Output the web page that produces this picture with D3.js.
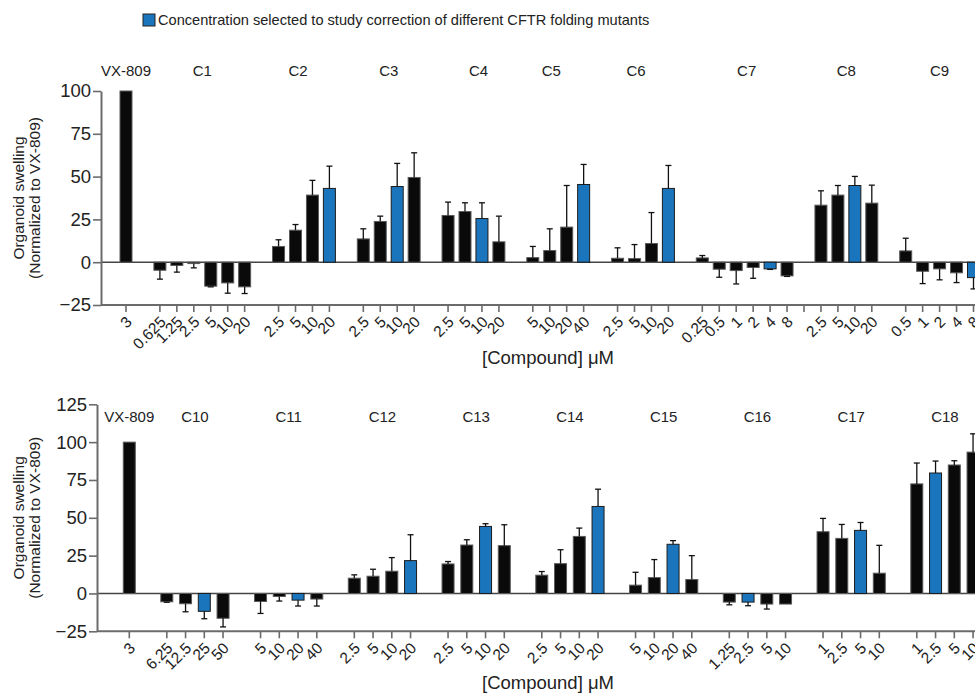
<!DOCTYPE html>
<html>
<head>
<meta charset="utf-8">
<script src="https://cdn.jsdelivr.net/npm/d3@7"></script>
<style>
  html, body { margin: 0; padding: 0; background: #fff; overflow: hidden; }
  svg { display: block; font-family: "Liberation Sans", Arial, sans-serif; }
</style>
</head>
<body>
<svg id="chart" width="975" height="694"></svg>
<script>
// ---- Panel 1: VX-809 reference and compounds C1–C9 ----
const topGroups = ["VX-809", "C1", "C2", "C3", "C4", "C5", "C6", "C7", "C8", "C9"];
const topDoses = [
  ["3"],
  ["0.625", "1.25", "2.5", "5", "10", "20"],
  ["2.5", "5", "10", "20"],
  ["2.5", "5", "10", "20"],
  ["2.5", "5", "10", "20"],
  ["5", "10", "20", "40"],
  ["2.5", "5", "10", "20"],
  ["0.25", "0.5", "1", "2", "4", "8"],
  ["2.5", "5", "10", "20"],
  ["0.5", "1", "2", "4", "8"]
];
const topMeans = [
  [100],
  [-4.7, -1.9, -0.8, -14.0, -12.1, -14.4],
  [9.2, 18.7, 39.2, 43.1],
  [13.6, 23.8, 44.2, 49.5],
  [27.3, 29.6, 25.5, 11.9],
  [2.7, 6.8, 20.5, 45.4],
  [2.3, 2.1, 10.9, 43.1],
  [2.5, -4.1, -4.9, -3.1, -3.9, -8.0],
  [33.3, 39.2, 44.8, 34.5],
  [6.6, -5.3, -3.9, -6.2, -9.0]
];
const topErrors = [
  [0],
  [5.2, 3.9, 2.5, 0.4, 6.0, 3.9],
  [3.9, 3.3, 8.6, 13.0],
  [5.9, 3.1, 13.5, 14.4],
  [7.8, 5.1, 9.2, 15.0],
  [6.5, 12.7, 24.3, 11.7],
  [6.1, 8.2, 18.1, 13.4],
  [1.4, 4.7, 7.8, 6.3, 0.3, 0.3],
  [8.4, 5.6, 5.3, 10.5],
  [7.4, 7.2, 6.4, 5.7, 6.6]
];
// dose chosen for the follow-up correction study (drawn in blue)
const topSelected = [null, null, "20", "10", "10", "40", "20", "4", "10", "8"];
const topYTicks = [-25, 0, 25, 50, 75, 100];
// groups whose trailing spacer slot still carries an (unlabelled) tick
const topTickedGaps = ["C7"];

// ---- Panel 2: VX-809 reference and compounds C10–C18 ----
const bottomGroups = ["VX-809", "C10", "C11", "C12", "C13", "C14", "C15", "C16", "C17", "C18"];
const bottomDoses = [
  ["3"],
  ["6.25", "12.5", "25", "50"],
  ["5", "10", "20", "40"],
  ["2.5", "5", "10", "20"],
  ["2.5", "5", "10", "20"],
  ["2.5", "5", "10", "20"],
  ["5", "10", "20", "40"],
  ["1.25", "2.5", "5", "10"],
  ["1", "2.5", "5", "10"],
  ["1", "2.5", "5", "10"]
];
const bottomMeans = [
  [100],
  [-5.5, -6.8, -11.8, -16.4],
  [-5.3, -2.0, -4.4, -3.7],
  [10.1, 11.4, 14.7, 21.7],
  [19.5, 32.0, 44.3, 31.6],
  [12.1, 19.7, 37.7, 57.5],
  [5.5, 10.5, 32.5, 9.2],
  [-5.7, -5.7, -7.0, -7.0],
  [40.8, 36.4, 41.7, 13.4],
  [72.4, 79.6, 84.9, 93.4]
];
const bottomErrors = [
  [0],
  [0.3, 5.3, 4.9, 5.7],
  [7.9, 3.0, 3.9, 4.6],
  [2.2, 4.6, 9.0, 17.1],
  [1.6, 3.5, 1.8, 13.8],
  [2.4, 9.2, 5.5, 11.4],
  [8.5, 11.9, 2.4, 15.8],
  [1.8, 2.4, 3.3, 0],
  [8.8, 9.2, 5.2, 18.4],
  [13.8, 7.9, 2.8, 12.1]
];
const bottomSelected = [null, "25", "20", "20", "10", "20", "20", "2.5", "5", "2.5"];
const bottomYTicks = [-25, 0, 25, 50, 75, 100, 125];
const bottomTickedGaps = [];

const yTitle = ["Organoid swelling", "(Normalized to VX-809)"];
const xTitle = "[Compound] \u03bcM";
const legendText = "Concentration selected to study correction of different CFTR folding mutants";

// ---- styling ----
const W = 975, H = 694;
const BLACK = "#0a0a0a", BLUE = "#1b75bc", AXIS = "#6b6b6b", TEXT = "#222";
const BAR_W = 12;

const svg = d3.select("#chart");

// legend
const legend = svg.append("g").attr("transform", "translate(143,14)");
legend.append("rect").attr("width", 12).attr("height", 12)
  .attr("fill", BLUE).attr("stroke", "#222").attr("stroke-width", 1);
legend.append("text").attr("x", 15).attr("y", 10.5)
  .attr("font-size", 14.6).attr("fill", TEXT).text(legendText);

const panels = [
  { groups: topGroups, doses: topDoses, means: topMeans, errors: topErrors,
    selected: topSelected, yTicks: topYTicks, tickedGaps: topTickedGaps,
    layout: { axisX: 101, first: 126, step: 16.95, yTop: 91, yBottom: 305,
              labelY: 75.5, titleY: 364, yTitleX: 19,
              // hand-placed nudges for a few compound labels (px)
              labelNudge: { "C2": -6, "C4": 5, "C5": -7, "C6": -7, "C7": 2 } } },
  { groups: bottomGroups, doses: bottomDoses, means: bottomMeans, errors: bottomErrors,
    selected: bottomSelected, yTicks: bottomYTicks, tickedGaps: bottomTickedGaps,
    layout: { axisX: 97, first: 129.3, step: 18.75, yTop: 404.3, yBottom: 631.3,
              labelY: 421.5, titleY: 689, yTitleX: 19, labelNudge: {} } }
];

panels.forEach(drawPanel);

function drawPanel(p) {
  const L = p.layout;
  const g = svg.append("g");

  // one band slot per dose, with a spacer slot between compounds
  const slots = [];
  p.groups.forEach((name, gi) => {
    if (gi > 0) {
      const prev = p.groups[gi - 1];
      slots.push({ id: "gap-" + gi, gap: true, ticked: p.tickedGaps.includes(prev), dose: "" });
    }
    p.doses[gi].forEach((dose, di) => {
      slots.push({
        id: name + "|" + di, group: name, gi, dose,
        mean: p.means[gi][di], err: p.errors[gi][di],
        selected: p.selected[gi] === dose
      });
    });
  });
  const byId = new Map(slots.map(s => [s.id, s]));

  const pin = 1 - BAR_W / L.step;
  const x0 = L.first - L.step / 2;
  const x = d3.scaleBand()
    .domain(slots.map(s => s.id))
    .range([x0, x0 + L.step * slots.length])
    .paddingInner(pin).paddingOuter(pin / 2);
  const y = d3.scaleLinear().domain(d3.extent(p.yTicks)).range([L.yBottom, L.yTop]);
  const yMin = d3.min(p.yTicks);

  // zero line
  g.append("line")
    .attr("x1", L.axisX).attr("x2", W + 10)
    .attr("y1", y(0)).attr("y2", y(0))
    .attr("stroke", "#444").attr("stroke-width", 1.5);

  // bars
  const data = slots.filter(s => !s.gap && s.mean != null);
  g.selectAll("rect.bar").data(data).join("rect")
    .attr("class", "bar")
    .attr("x", d => x(d.id))
    .attr("width", x.bandwidth())
    .attr("y", d => y(Math.max(0, d.mean)))
    .attr("height", d => Math.abs(y(d.mean) - y(0)))
    .attr("fill", d => d.selected ? BLUE : BLACK)
    .attr("stroke", d => d.selected ? "#1c1c1c" : "#5a5a5a")
    .attr("stroke-width", 1);

  // one-sided error bars (away from zero)
  const errs = data.filter(d => d.err > 0);
  const ends = d => d.mean + (d.mean >= 0 ? 1 : -1) * d.err;
  const cx = d => x(d.id) + x.bandwidth() / 2;
  g.selectAll("line.err").data(errs).join("line")
    .attr("class", "err")
    .attr("x1", cx).attr("x2", cx)
    .attr("y1", d => y(d.mean)).attr("y2", d => y(ends(d)))
    .attr("stroke", "#111").attr("stroke-width", 1.3);
  g.selectAll("line.cap").data(errs).join("line")
    .attr("class", "cap")
    .attr("x1", d => cx(d) - 3).attr("x2", d => cx(d) + 3)
    .attr("y1", d => y(ends(d))).attr("y2", d => y(ends(d)))
    .attr("stroke", "#111").attr("stroke-width", 1.3);

  // x axis
  const xAxisG = g.append("g").attr("transform", `translate(0,${y(yMin)})`);
  xAxisG.append("line")
    .attr("x1", L.axisX).attr("x2", W + 10)
    .attr("stroke", AXIS).attr("stroke-width", 2);
  const xAxis = d3.axisBottom(x)
    .tickValues(slots.filter(s => !s.gap || s.ticked).map(s => s.id))
    .tickFormat(id => byId.get(id).dose)
    .tickSize(7).tickSizeOuter(0);
  const ax = xAxisG.append("g").call(xAxis);
  ax.select(".domain").remove();
  ax.selectAll(".tick line").attr("stroke", AXIS).attr("stroke-width", 1.6);
  ax.selectAll(".tick text")
    .attr("x", 0).attr("y", 0).attr("dy", "0.35em")
    .attr("text-anchor", "end")
    .attr("transform", "translate(3,14) rotate(-45)")
    .attr("font-size", 15.5).attr("fill", TEXT);

  // y axis
  const yAxis = d3.axisLeft(y).tickValues(p.yTicks).tickSize(8).tickPadding(2).tickSizeOuter(0);
  const ay = g.append("g").attr("transform", `translate(${L.axisX},0)`).call(yAxis);
  ay.select(".domain").attr("stroke", AXIS).attr("stroke-width", 2);
  ay.selectAll(".tick line").attr("stroke", AXIS).attr("stroke-width", 1.6);
  ay.selectAll(".tick text").attr("font-size", 18.5).attr("fill", TEXT);

  // compound labels above each group
  const groupCenters = p.groups.map((name, gi) => {
    const members = slots.filter(s => !s.gap && s.gi === gi);
    return { name, cx: d3.mean(members, s => x(s.id) + x.bandwidth() / 2) + (L.labelNudge[name] || 0) };
  });
  g.selectAll("text.grp").data(groupCenters).join("text")
    .attr("class", "grp")
    .attr("x", d => d.cx).attr("y", L.labelY)
    .attr("text-anchor", "middle")
    .attr("font-size", 15).attr("fill", TEXT)
    .text(d => d.name);

  // y title (two lines)
  const yMid = (L.yTop + L.yBottom) / 2;
  g.append("text")
    .attr("transform", `translate(${L.yTitleX},${yMid}) rotate(-90)`)
    .attr("text-anchor", "middle").attr("font-size", 15.5).attr("fill", TEXT)
    .selectAll("tspan").data(yTitle).join("tspan")
    .attr("x", 0).attr("dy", (d, i) => i === 0 ? "0.35em" : "1.0em")
    .text(d => d);

  // x title
  g.append("text")
    .attr("x", 548).attr("y", L.titleY)
    .attr("text-anchor", "middle").attr("font-size", 18.5).attr("fill", TEXT)
    .text(xTitle);
}
</script>
</body>
</html>
